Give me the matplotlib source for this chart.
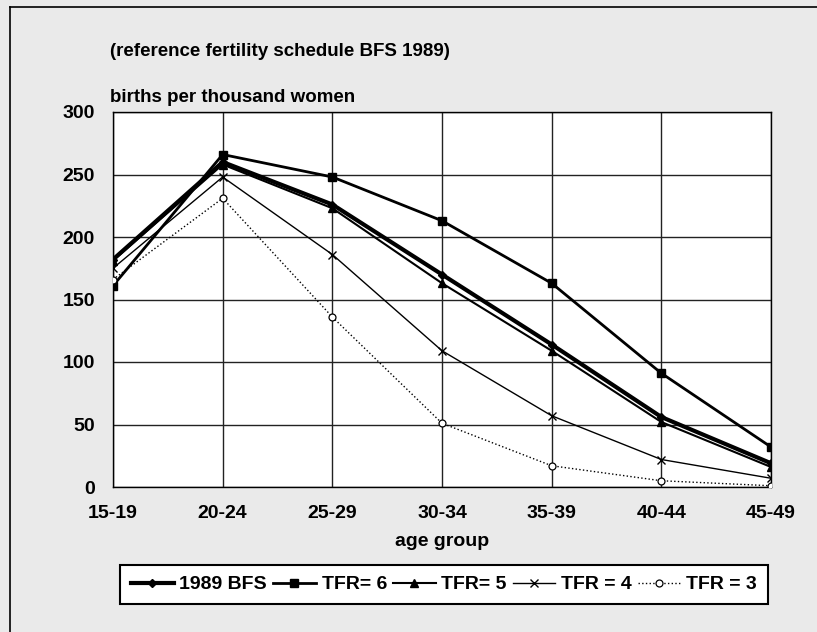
#!/usr/bin/env python3
"""Age-specific fertility schedules, BFS 1989 reference."""

import matplotlib as mpl
import matplotlib.pyplot as plt
from matplotlib.lines import Line2D

age_groups = ["15-19", "20-24", "25-29", "30-34", "35-39", "40-44", "45-49"]
bfs_1989 = [182, 260, 226, 170, 114, 56, 19]
tfr_6 = [161, 266, 248, 213, 163, 91, 32]
tfr_5 = [181, 258, 223, 163, 109, 52, 16]
tfr_4 = [175, 248, 186, 109, 57, 22, 7]
tfr_3 = [166, 231, 136, 51, 17, 5, 1]
series_labels = ["1989 BFS", "TFR= 6", "TFR= 5", "TFR = 4", "TFR = 3"]
y_ticks = [0, 50, 100, 150, 200, 250, 300]

W, H = 817, 632


def fx(px):
    return px / W


def fy(py):
    return 1 - py / H


def main() -> None:
    mpl.rcParams.update(
        {
            "font.family": ["Liberation Sans", "DejaVu Sans"],
            "font.weight": "bold",
            "font.size": 13.5,
        }
    )

    fig = plt.figure(figsize=(W / 100, H / 100), dpi=100, facecolor="#eaeaea")
    # outer frame (only left and top edges fall inside the image)
    fig.add_artist(Line2D([fx(10), fx(10)], [fy(7), 0], color="black", lw=1.2))
    fig.add_artist(Line2D([fx(10), 1], [fy(7), fy(7)], color="black", lw=1.2))

    ax = fig.add_axes([fx(113), fy(487), fx(771) - fx(113), fy(112) - fy(487)])
    ax.set_facecolor("white")
    x = list(range(len(age_groups)))

    styles = [
        (bfs_1989, dict(lw=3.0, marker="D", ms=4, mfc="black", ls="-")),
        (tfr_6, dict(lw=2.0, marker="s", ms=6, mfc="black", ls="-")),
        (tfr_5, dict(lw=1.5, marker="^", ms=6, mfc="black", ls="-")),
        (tfr_4, dict(lw=1.0, marker="x", ms=6, mew=1.0, ls="-")),
        (tfr_3, dict(lw=1.0, marker="o", ms=5, mfc="white", mew=0.9, ls=":")),
    ]
    handles = []
    for (vals, st), lab in zip(styles, series_labels):
        (h,) = ax.plot(x, vals, color="black", label=lab, zorder=3, **st)
        handles.append(h)

    ax.set_xlim(0, len(age_groups) - 1)
    ax.set_ylim(0, 300)
    ax.set_xticks(x)
    ax.set_xticklabels(age_groups)
    ax.set_yticks(y_ticks)
    ax.grid(True, color="#222222", lw=1.0, zorder=1)
    ax.tick_params(length=0, labelsize=14)
    ax.tick_params(axis="x", pad=13)
    ax.tick_params(axis="y", pad=13)
    for sp in ax.spines.values():
        sp.set_color("black")
        sp.set_linewidth(1.0)

    fig.text(fx(110), fy(52), "(reference fertility schedule BFS 1989)", ha="left", va="center",
             fontsize=13.5, fontweight="bold")
    fig.text(fx(110), fy(97), "births per thousand women", ha="left", va="center",
             fontsize=13.5, fontweight="bold")
    fig.text((fx(113) + fx(771)) / 2, fy(542), "age group", ha="center", va="center",
             fontsize=14, fontweight="bold")

    leg = fig.legend(
        handles=handles,
        loc="center",
        bbox_to_anchor=((fx(113) + fx(775)) / 2, (fy(564) + fy(605)) / 2),
        ncol=5,
        numpoints=1,
        frameon=True,
        fancybox=False,
        edgecolor="black",
        facecolor="white",
        framealpha=1.0,
        handlelength=2.2,
        handletextpad=0.3,
        columnspacing=0.3,
        borderpad=0.55,
        borderaxespad=0,
        fontsize=14,
    )
    leg.get_frame().set_linewidth(1.5)

    fig.savefig("out.png", dpi=100, facecolor=fig.get_facecolor())
    plt.close(fig)


if __name__ == "__main__":
    main()
